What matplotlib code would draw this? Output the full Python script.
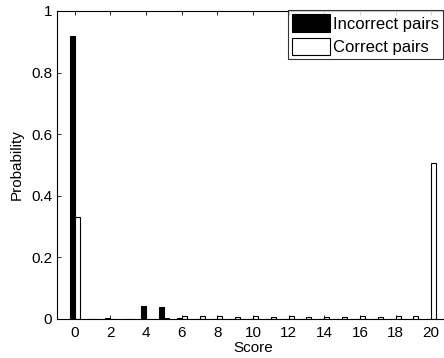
import numpy as np
import matplotlib
matplotlib.use("Agg")
import matplotlib.pyplot as plt

plt.rcParams["font.family"] = ["Liberation Sans", "DejaVu Sans"]

scores = list(range(21))
incorrect = [0.92, 0.001, 0.002, 0.001, 0.043, 0.040, 0.004, 0.001, 0.001, 0.0,
             0.0, 0.0, 0.0, 0.0, 0.0, 0.0, 0.0, 0.0, 0.0, 0.0, 0.0]
correct = [0.33, 0.0, 0.0, 0.0, 0.0, 0.004, 0.010, 0.009, 0.011, 0.008,
           0.011, 0.008, 0.010, 0.008, 0.008, 0.006, 0.009, 0.008, 0.009, 0.010, 0.505]

W, H = 444, 358
fig = plt.figure(figsize=(W / 100, H / 100), dpi=100)
# axes extends a bit past the right edge (cropped like the reference)
ax = fig.add_axes([57 / W, 1 - 319 / H, 392 / W, 308 / H])

x = np.array(scores)
off = 0.14
bw = 0.28
ax.bar(x - off, incorrect, width=bw, color="black", edgecolor="black",
       linewidth=0.8, label="Incorrect pairs")
ax.bar(x + off, correct, width=bw, color="white", edgecolor="black",
       linewidth=0.8, label="Correct pairs")

ax.set_xlim(-1, 21)
ax.set_ylim(0, 1)
ax.set_xticks(range(0, 21, 2))
ax.set_yticks([0, 0.2, 0.4, 0.6, 0.8, 1])
ax.set_yticklabels(["0", "0.2", "0.4", "0.6", "0.8", "1"])
ax.tick_params(axis="x", pad=5)
ax.tick_params(direction="in", top=True, right=True, labelsize=11,
               length=3, width=0.6)
for s in ax.spines.values():
    s.set_linewidth(0.8)

ax.set_xlabel("Score", fontsize=11, labelpad=1)
ax.set_ylabel("Probability", fontsize=11, labelpad=5)

leg = fig.legend(loc="upper right", bbox_to_anchor=(443 / W, 1 - 10 / H),
                 fontsize=12, frameon=True, fancybox=False,
                 edgecolor="black", handlelength=2.3, handleheight=1.25,
                 handletextpad=0.15, borderpad=0.25, labelspacing=0.35,
                 borderaxespad=0)
leg.get_frame().set_linewidth(0.8)

fig.savefig("out.png", dpi=100)
